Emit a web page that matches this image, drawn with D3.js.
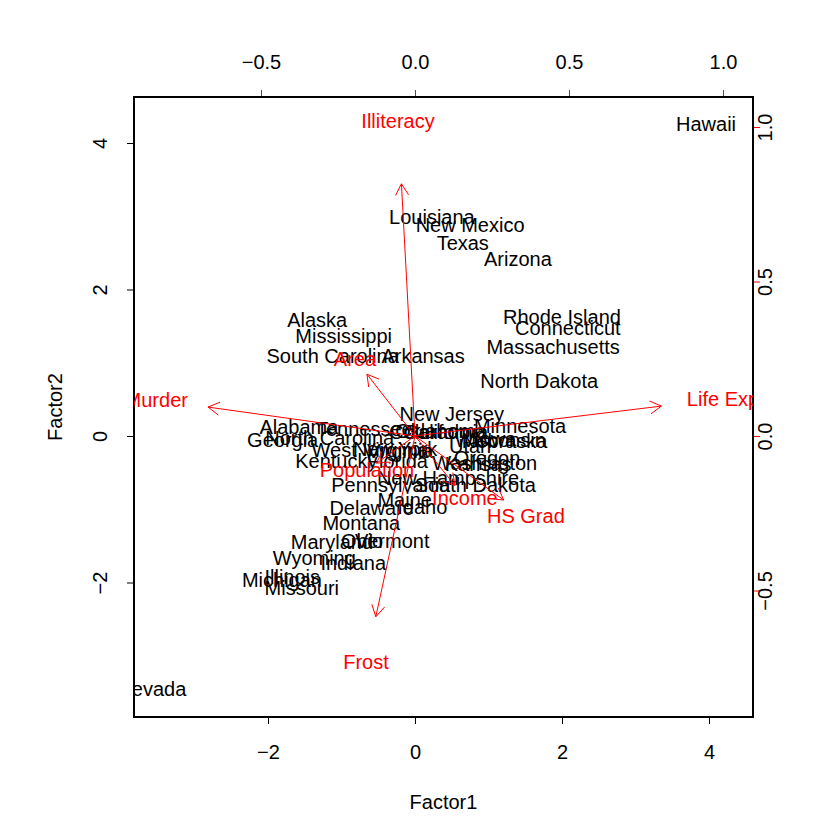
<!DOCTYPE html>
<html>
<head>
<meta charset="utf-8">
<script src="https://cdn.jsdelivr.net/npm/d3@7"></script>
<style>
  html, body { margin: 0; padding: 0; background: #fff; }
  text { font-family: "Liberation Sans", Arial, Helvetica, sans-serif; }
</style>
</head>
<body>
<svg id="chart" width="840" height="840"></svg>
<script>
// ---- Data ----
const states = ["Alabama","Alaska","Arizona","Arkansas","California","Colorado","Connecticut","Delaware","Florida","Georgia",
  "Hawaii","Idaho","Illinois","Indiana","Iowa","Kansas","Kentucky","Louisiana","Maine","Maryland",
  "Massachusetts","Michigan","Minnesota","Mississippi","Missouri","Montana","Nebraska","Nevada","New Hampshire","New Jersey",
  "New Mexico","New York","North Carolina","North Dakota","Ohio","Oklahoma","Oregon","Pennsylvania","Rhode Island","South Carolina",
  "South Dakota","Tennessee","Texas","Utah","Vermont","Virginia","Washington","West Virginia","Wisconsin","Wyoming"];
const factor1 = [-1.58,-1.33,1.40,0.11,0.42,0.20,2.08,-0.59,-0.24,-1.80,
  3.96,0.10,-1.67,-0.84,1.09,0.86,-1.07,0.23,-0.14,-1.13,
  1.88,-1.81,1.43,-0.97,-1.54,-0.73,1.22,-3.58,0.45,0.50,
  0.75,-0.27,-1.16,1.69,-0.72,0.35,0.98,-0.33,2.00,-1.12,
  0.82,-0.69,0.65,0.75,-0.31,-0.20,0.95,-0.61,1.16,-1.37];
const factor2 = [0.12,1.58,2.42,1.09,0.05,0.05,1.47,-0.98,-0.34,-0.05,
  4.26,-0.97,-1.92,-1.73,-0.04,-0.38,-0.34,2.99,-0.87,-1.45,
  1.22,-1.97,0.14,1.37,-2.08,-1.19,-0.07,-3.45,-0.57,0.30,
  2.88,-0.18,-0.03,0.75,-1.44,0.07,-0.30,-0.67,1.62,1.09,
  -0.67,0.10,2.63,-0.14,-1.44,-0.20,-0.37,-0.19,-0.05,-1.67];

const variables = ["Population","Income","Illiteracy","Life Exp","Murder","HS Grad","Frost","Area"];
const loading1 = [-0.156, 0.162, -0.055, 1.000, -0.840, 0.360, -0.159, -0.195];
const loading2 = [-0.110, -0.200, 1.020, 0.121, 0.117, -0.259, -0.731, 0.250];

const primaryTicks = [-2, 0, 2, 4];
const secondaryTicks = [-0.5, 0.0, 0.5, 1.0];
const xTitle = "Factor1", yTitle = "Factor2";

// ---- Layout ----
const svg = d3.select("#chart");
const L = 134, R = 753, T = 97, B = 717;
const red = "#ff0000";

const x = d3.scaleLinear().domain([-3.823, 4.599]).range([L, R]);
const y = d3.scaleLinear().domain([-3.836, 4.628]).range([B, T]);
const xs = d3.scaleLinear().domain([-0.9123, 1.0974]).range([L, R]);
const ys = d3.scaleLinear().domain([-0.9094, 1.0971]).range([B, T]);

svg.append("defs").append("clipPath").attr("id", "plotclip")
  .append("rect").attr("x", L).attr("y", T).attr("width", R - L).attr("height", B - T);

const fs = 20;

// Axes
const gB = svg.append("g").attr("transform", `translate(0,${B})`)
  .call(d3.axisBottom(x).tickValues(primaryTicks).tickSize(7).tickFormat(d3.format("d")));
const gL = svg.append("g").attr("transform", `translate(${L},0)`)
  .call(d3.axisLeft(y).tickValues(primaryTicks).tickSize(7).tickFormat(d3.format("d")));
const gT = svg.append("g").attr("transform", `translate(0,${T})`)
  .call(d3.axisTop(xs).tickValues(secondaryTicks).tickSize(7).tickFormat(d3.format(".1f")));
const gR = svg.append("g").attr("transform", `translate(${R},0)`)
  .call(d3.axisRight(ys).tickValues(secondaryTicks).tickSize(7).tickFormat(d3.format(".1f")));

[gB, gL, gT, gR].forEach(g => {
  g.select(".domain").remove();
  g.selectAll("text").attr("font-size", fs).attr("fill", "#000")
    .style("font-family", '"Liberation Sans", Arial, sans-serif')
    .attr("x", null).attr("y", null).attr("dy", null)
    .attr("text-anchor", "middle").attr("dominant-baseline", "central");
});
gB.selectAll(".tick line").attr("stroke", "#000");
gL.selectAll(".tick line").attr("stroke", "#000");
gT.selectAll(".tick line").attr("stroke", red);
gR.selectAll(".tick line").attr("stroke", red);

gB.selectAll(".tick text").attr("y", 35);
gT.selectAll(".tick text").attr("y", -35);
gL.selectAll(".tick text").attr("transform", "translate(-34,0) rotate(-90)");
gR.selectAll(".tick text").attr("transform", "translate(12,0) rotate(-90)");

// Tick span lines (R style): black primary, hidden under box
svg.append("line").attr("x1", xs(-0.5)).attr("x2", xs(1.0)).attr("y1", T).attr("y2", T).attr("stroke", red);
svg.append("line").attr("y1", ys(-0.5)).attr("y2", ys(1.0)).attr("x1", R).attr("x2", R).attr("stroke", red);

// Box (on top)
svg.append("rect").attr("x", L).attr("y", T).attr("width", R - L).attr("height", B - T)
  .attr("fill", "none").attr("stroke", "#000").attr("stroke-width", 1.2)
  .attr("shape-rendering", "crispEdges");

// Axis titles
svg.append("text").attr("x", (L + R) / 2).attr("y", 802).attr("text-anchor", "middle")
  .attr("dominant-baseline", "central").attr("font-size", fs).text(xTitle);
svg.append("text").attr("transform", `translate(55,${(T + B) / 2}) rotate(-90)`)
  .attr("text-anchor", "middle").attr("dominant-baseline", "central").attr("font-size", fs).text(yTitle);

const plot = svg.append("g").attr("clip-path", "url(#plotclip)");

// State labels
plot.selectAll("text.state").data(states).enter().append("text")
  .attr("class", "state")
  .attr("x", (d, i) => x(factor1[i]))
  .attr("y", (d, i) => y(factor2[i]))
  .attr("text-anchor", "middle").attr("dominant-baseline", "central")
  .attr("font-size", fs).attr("fill", "#000").text(d => d);

// Arrows to 0.8 * loading
const headLen = 13, headAng = Math.PI / 6;
variables.forEach((v, i) => {
  const x0 = xs(0), y0 = ys(0);
  const x1 = xs(loading1[i] * 0.8), y1 = ys(loading2[i] * 0.8);
  plot.append("line").attr("x1", x0).attr("y1", y0).attr("x2", x1).attr("y2", y1)
    .attr("stroke", red).attr("stroke-width", 1);
  const ang = Math.atan2(y1 - y0, x1 - x0);
  [-headAng, headAng].forEach(a => {
    plot.append("line").attr("x1", x1).attr("y1", y1)
      .attr("x2", x1 - headLen * Math.cos(ang + a))
      .attr("y2", y1 - headLen * Math.sin(ang + a))
      .attr("stroke", red).attr("stroke-width", 1);
  });
});

// Variable labels at loading
plot.selectAll("text.var").data(variables).enter().append("text")
  .attr("class", "var")
  .attr("x", (d, i) => xs(loading1[i]))
  .attr("y", (d, i) => ys(loading2[i]))
  .attr("text-anchor", "middle").attr("dominant-baseline", "central")
  .attr("font-size", fs).attr("fill", red).text(d => d);
</script>
</body>
</html>
